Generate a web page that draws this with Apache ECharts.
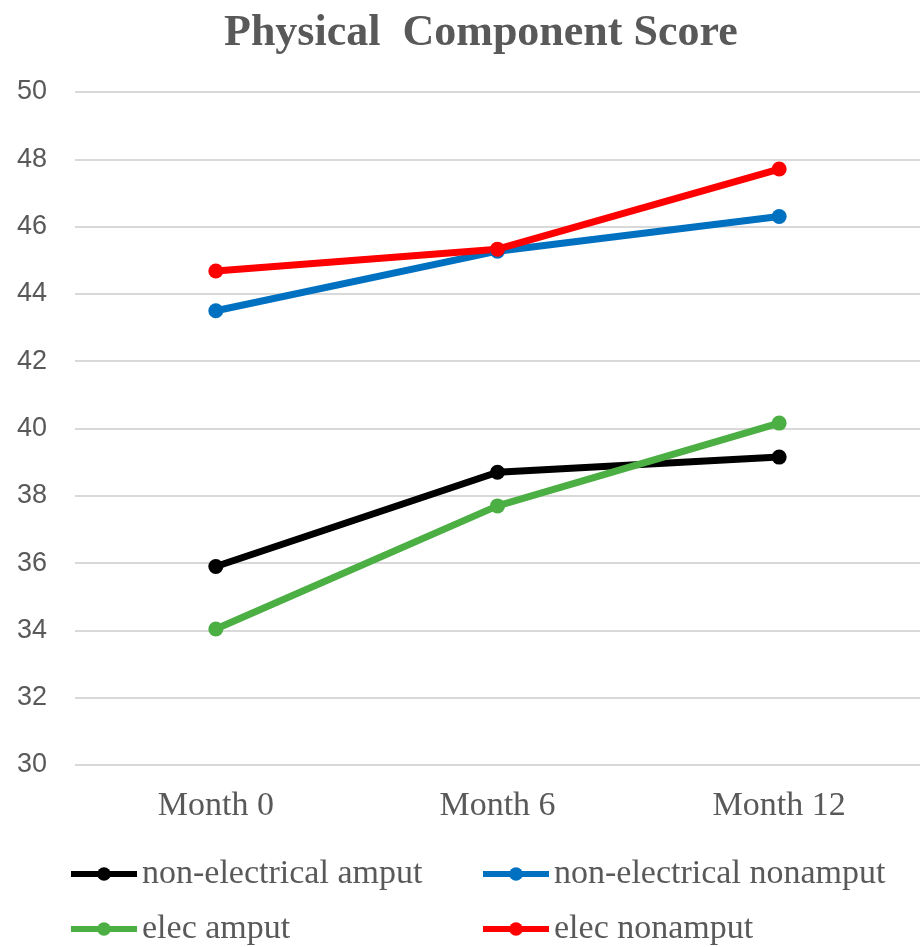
<!DOCTYPE html>
<html>
<head>
<meta charset="utf-8">
<script src="https://cdn.jsdelivr.net/npm/echarts@6/dist/echarts.min.js"></script>
<style>
  html, body { margin: 0; padding: 0; background: #fff; }
  #main { width: 920px; height: 947px; }
</style>
</head>
<body>
<div id="main"></div>
<script>
const months = ['Month 0', 'Month 6', 'Month 12']
const seriesNames = ['non-electrical amput', 'non-electrical nonamput', 'elec amput', 'elec nonamput']
const nonElecAmput = [35.9, 38.7, 39.15]
const nonElecNonamput = [43.5, 45.27, 46.3]
const elecAmput = [34.04, 37.7, 40.16]
const elecNonamput = [44.68, 45.33, 47.71]
const colors = ['#000000', '#0070C0', '#4CAF44', '#FF0000']

const chart = echarts.init(document.getElementById('main'))

function line(name, data, color) {
  return {
    name: name,
    type: 'line',
    data: data,
    symbol: 'circle',
    symbolSize: 15,
    itemStyle: { color: color },
    lineStyle: { color: color, width: 7 },
    animation: false
  }
}

// one legend per item so the two columns line up like the original
const legendPos = [[68, 857], [480, 857], [68, 912], [480, 912]]
const legends = seriesNames.map((n, i) => ({
  data: [n],
  left: legendPos[i][0],
  top: legendPos[i][1],
  padding: 0,
  itemWidth: 66,
  itemHeight: 17,
  itemGap: 4,
  lineStyle: { width: 6 },
  textStyle: { fontFamily: 'Liberation Serif', fontSize: 34, color: '#595959' }
}))

chart.setOption({
  backgroundColor: '#fff',
  title: {
    text: 'Physical  Component Score',
    left: 219,
    top: 7,
    textStyle: { fontFamily: 'Liberation Serif', fontSize: 44, fontWeight: 'bold', color: '#595959' }
  },
  legend: legends,
  grid: { left: 75, right: 0, top: 92, bottom: 182 },
  xAxis: {
    type: 'category',
    data: months,
    axisLine: { show: false },
    axisTick: { show: false },
    axisLabel: { fontFamily: 'Liberation Serif', fontSize: 34, color: '#595959', margin: 24 }
  },
  yAxis: {
    type: 'value',
    min: 30,
    max: 50,
    interval: 2,
    axisLabel: { fontFamily: 'Liberation Sans', fontSize: 27, color: '#595959', margin: 28 },
    splitLine: { lineStyle: { color: '#d9d9d9', width: 2 } }
  },
  series: [
    line(seriesNames[0], nonElecAmput, colors[0]),
    line(seriesNames[1], nonElecNonamput, colors[1]),
    line(seriesNames[2], elecAmput, colors[2]),
    line(seriesNames[3], elecNonamput, colors[3])
  ]
})
</script>
</body>
</html>
